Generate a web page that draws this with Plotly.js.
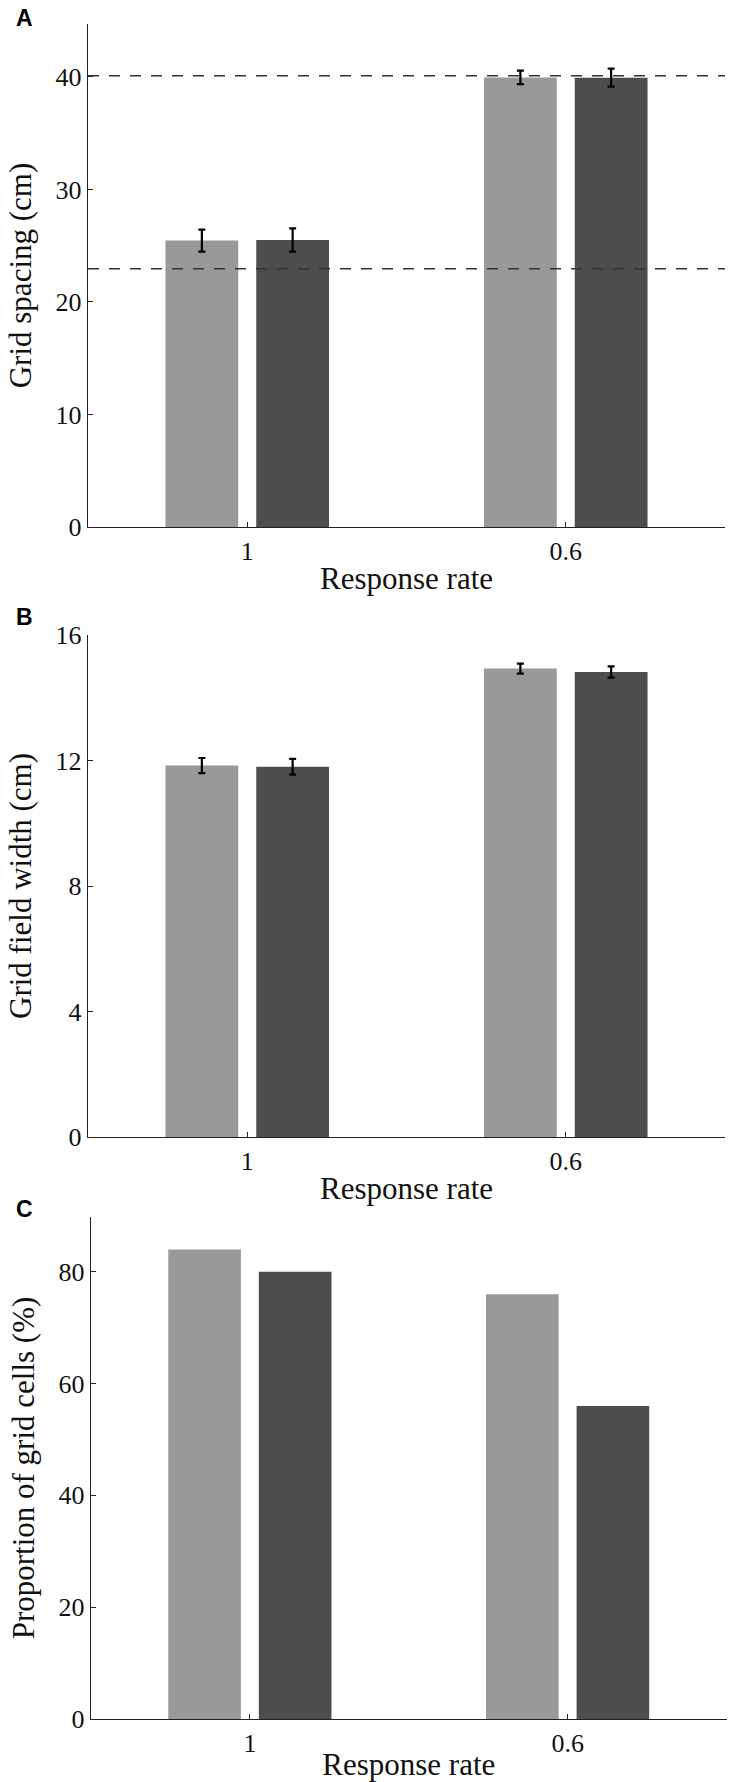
<!DOCTYPE html>
<html>
<head>
<meta charset="utf-8">
<script src="https://cdn.plot.ly/plotly-3.0.1.min.js"></script>
<style>
  html, body { margin: 0; padding: 0; background: #fff; }
  #fig { width: 735px; height: 1782px; }
</style>
</head>
<body>
<div id="fig"></div>
<script>
// response rate categories
const rates = ["1", "0.6"];

// A: grid spacing (cm)
const spacingLight = [25.45, 39.95];
const spacingLightErr = [0.97, 0.6];
const spacingDark = [25.5, 39.93];
const spacingDarkErr = [1.03, 0.8];
const spacingRefLines = [40.1, 22.95];

// B: grid field width (cm)
const widthLight = [11.84, 14.93];
const widthLightErr = [0.24, 0.16];
const widthDark = [11.8, 14.82];
const widthDarkErr = [0.25, 0.18];

// C: proportion of grid cells (%)
const propLight = [84, 76];
const propDark = [80, 56];

const LIGHT = "#999999";
const DARK = "#4d4d4d";
const AXIS = "#222222";
const FIG_W = 735, FIG_H = 1782;

function bar(y, err, color, xa, ya) {
  const t = {
    type: "bar",
    x: rates,
    y: y,
    xaxis: xa,
    yaxis: ya,
    marker: { color: color, line: { width: 0 } },
    showlegend: false,
    hoverinfo: "skip"
  };
  if (err) {
    t.error_y = { type: "data", array: err, visible: true, color: "#000", thickness: 2.2, width: 3.5 };
  }
  return t;
}

const traces = [
  bar(spacingLight, spacingLightErr, LIGHT, "x", "y"),
  bar(spacingDark, spacingDarkErr, DARK, "x", "y"),
  bar(widthLight, widthLightErr, LIGHT, "x2", "y2"),
  bar(widthDark, widthDarkErr, DARK, "x2", "y2"),
  bar(propLight, null, LIGHT, "x3", "y3"),
  bar(propDark, null, DARK, "x3", "y3")
];

// pixel boxes -> paper fractions
const px = v => v / FIG_W;
const py = v => 1 - v / FIG_H;

const tickFont = { family: "Liberation Serif, Times New Roman, serif", size: 26, color: "#111" };
const titleFont = { family: "Liberation Serif, Times New Roman, serif", size: 31, color: "#111" };

function xAxis(anchor, left, right) {
  return {
    anchor: anchor,
    domain: [px(left), px(right)],
    type: "category",
    range: [-0.5, 1.5],
    showline: true, linecolor: AXIS, linewidth: 1.3,
    ticks: "inside", ticklen: 5, tickcolor: AXIS, tickwidth: 1,
    showgrid: false, zeroline: false,
    tickfont: tickFont,
    title: { text: "Response rate", font: titleFont, standoff: 2 },
    fixedrange: true
  };
}

function yAxis(anchor, top, bottom, range, dtick, text, left) {
  return {
    anchor: anchor,
    domain: [py(bottom), py(top)],
    range: range,
    dtick: dtick,
    tick0: 0,
    showline: true, linecolor: AXIS, linewidth: 1.3,
    ticks: "inside", ticklen: 5, tickcolor: AXIS, tickwidth: 1,
    showgrid: false, zeroline: false,
    tickfont: tickFont,
    title: { text: text, font: titleFont, standoff: 14 },
    fixedrange: true
  };
}

const layout = {
  width: FIG_W,
  height: FIG_H,
  margin: { l: 0, r: 0, t: 0, b: 0 },
  paper_bgcolor: "#fff",
  plot_bgcolor: "#fff",
  barmode: "group",
  bargap: 0.43,
  bargroupgap: 0.198,
  xaxis: xAxis("y", 88, 725),
  yaxis: yAxis("x", 24, 527, [0, 44.7], 10, "Grid spacing (cm)"),
  xaxis2: xAxis("y2", 88, 725),
  yaxis2: yAxis("x2", 635, 1137, [0, 16], 4, "Grid field width (cm)"),
  xaxis3: xAxis("y3", 91, 726.5),
  yaxis3: yAxis("x3", 1217, 1719, [0, 89.8], 20, "Proportion of grid cells (%)"),
  shapes: spacingRefLines.map(v => ({
    type: "line", xref: "x domain", yref: "y",
    x0: 0, x1: 1, y0: v, y1: v,
    line: { color: "#333", width: 1.5, dash: "11px,10px" }
  })),
  annotations: [["A", 18], ["B", 617], ["C", 1209]].map(([t, y]) => ({
    text: "<b>" + t + "</b>",
    xref: "paper", yref: "paper",
    x: px(14), y: py(y),
    xanchor: "left", yanchor: "middle",
    showarrow: false,
    font: { family: "Liberation Sans, Arial, sans-serif", size: 23, color: "#000" }
  })),
  hovermode: false
};

Plotly.newPlot("fig", traces, layout, { displayModeBar: false, staticPlot: true });
</script>
</body>
</html>
